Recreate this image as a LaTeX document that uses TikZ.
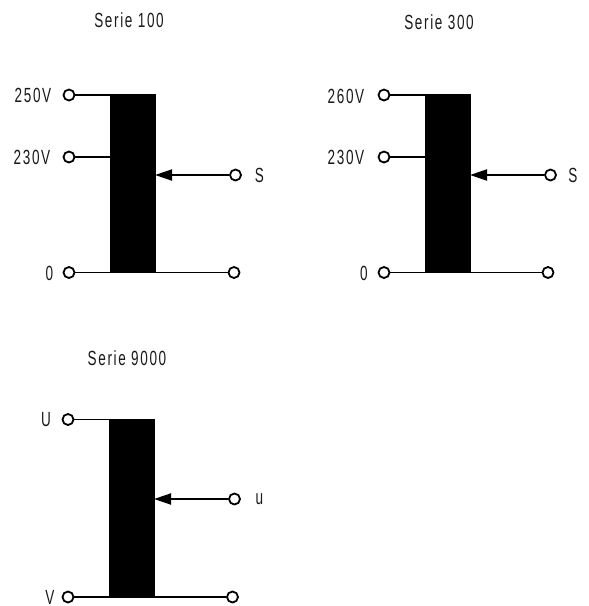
\documentclass[tikz,border=0pt]{standalone}
\usepackage{fontspec}
\setmainfont[FakeStretch=0.66,LetterSpace=8]{Liberation Sans}
\usetikzlibrary{arrows.meta}
\tikzset{
  core/.style={draw=none,fill=black,inner sep=0pt,minimum width=46pt,outer sep=0pt},
  term/.style={circle,draw=black,fill=white,line width=1.8pt,inner sep=0pt,minimum size=11pt},
  wire/.style={black,line width=1.9pt},
  feed/.style={wire,{Triangle[length=17pt,width=11pt]}-,shorten <=-1pt},
  lab/.style={inner sep=0pt,font=\fontsize{20.5}{22}\selectfont,text=black!90}
}
\begin{document}
\begin{tikzpicture}[x=1pt,y=-1pt]
\useasboundingbox (0,0) rectangle (589,606);
% Serie 100
\node[core,minimum height=178pt] (c1) at (133,183) {};
\node[term] (a1) at (69,95) {};
\node[term] (a2) at (69,157) {};
\node[term] (a3) at (69,272.5) {};
\node[term] (a4) at (235.5,175) {};
\node[term] (a5) at (234,272.5) {};
\draw[wire] (a1) -- (a1 -| c1.west);
\draw[wire] (a2) -- (a2 -| c1.west);
\draw[wire] (a3) -- (a5);
\draw[feed] (a4 -| c1.east) -- (a4);
\node[lab] (t1) at (129,20) {Serie 100};
\node[lab] (l1) at (33,95.5) {250V};
\node[lab] (l2) at (32,157.5) {230V};
\node[lab] (l3) at (49.5,273) {0};
\node[lab] (l4) at (259.5,175) {S};
% Serie 300
\node[core,minimum height=178pt] (c2) at (448,183) {};
\node[term] (b1) at (384,95) {};
\node[term] (b2) at (384,157) {};
\node[term] (b3) at (384,272.5) {};
\node[term] (b4) at (550.5,175) {};
\node[term] (b5) at (548,272.5) {};
\draw[wire] (b1) -- (b1 -| c2.west);
\draw[wire] (b2) -- (b2 -| c2.west);
\draw[wire] (b3) -- (b5);
\draw[feed] (b4 -| c2.east) -- (b4);
\node[lab] (t2) at (439,22) {Serie 300};
\node[lab] (m1) at (346,96) {260V};
\node[lab] (m2) at (346,157.5) {230V};
\node[lab] (m3) at (364,273) {0};
\node[lab] (m4) at (573,175) {S};
% Serie 9000
\node[core,minimum height=178.5pt] (c3) at (132,508) {};
\node[term] (d1) at (68,419.5) {};
\node[term] (d2) at (68,597) {};
\node[term] (d3) at (234.5,499) {};
\node[term] (d4) at (232.5,597) {};
\draw[wire] (d1) -- (d1 -| c3.west);
\draw[wire] (d2) -- (d4);
\draw[feed] (d3 -| c3.east) -- (d3);
\node[lab] (t3) at (127,358.5) {Serie 9000};
\node[lab] (n1) at (46,420) {U};
\node[lab] (n2) at (50,597) {V};
\node[lab] (n3) at (259.5,499) {u};
\end{tikzpicture}
\end{document}
